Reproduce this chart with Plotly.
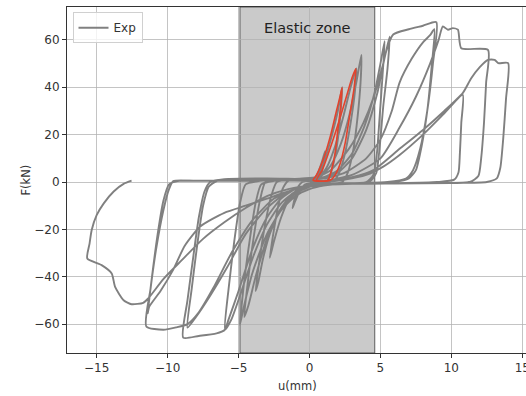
import plotly.graph_objects as go

# ---------------- data ----------------
cyc1_u = [0, 0.3, 0.6, 0.9, 1.1, 1.0, 0.8, 0.6, 0.2, -0.3, -0.7, -1.0, -1.2, -1.0, -0.8, -0.5, 0.0]
cyc1_f = [0, 1, 4, 9, 13, 8, 3, 0.5, -0.3, -1, -4, -8, -11, -6, -2, 0, 0.5]

cyc2_u = [0.2, 0.5, 1.0, 1.5, 2.0, 2.3, 2.2, 2.0, 1.7, 1.4, 1.2, 0.6, 0.0, -0.8, -1.5, -2.0, -2.5, -2.8,
          -2.5, -2.2, -1.9, -1.5, -0.5, 0.3]
cyc2_f = [0.3, 2, 8, 18, 30, 40, 30, 18, 8, 2, 0.3, -0.3, -1, -3, -8, -15, -25, -32,
          -20, -10, -3, 0.5, 1, 0.8]

cyc3_u = [0.6, 1.2, 1.8, 2.4, 2.9, 3.3, 3.2, 2.9, 2.5, 2.1, 1.7, 1.0, 0.0, -1.0, -2.0, -2.8, -3.3, -3.6, -3.8,
          -3.5, -3.1, -2.7, -2.3, -1.0, 0.0]
cyc3_f = [1.5, 6, 15, 28, 40, 48, 38, 25, 12, 4, 0.5, -0.5, -1.5, -4, -11, -22, -33, -42, -46,
          -32, -17, -6, 0, 1, 1.5]

cyc4_u = [0.8, 1.5, 2.2, 2.8, 3.3, 3.66, 3.6, 3.4, 3.1, 2.7, 2.3, 1.0, 0.0, -1.0, -2.0, -3.0, -3.8, -4.3, -4.6,
          -4.3, -3.9, -3.5, -3.1, -2.0, -0.5]
cyc4_f = [2.5, 7, 16, 28, 42, 53.7, 42, 28, 14, 4, 0, -1, -2, -5, -11, -24, -40, -52, -57,
          -40, -22, -8, 0, 1, 1.5]

cyc5_u = [0.5, 1.5, 2.8, 3.8, 4.5, 5.2, 5.65, 5.5, 5.2, 4.95, 4.7, 4.2, 2.5, 1.0, 0.0, -1.0, -2.0, -3.0, -4.0,
          -4.6, -4.9, -4.6, -4.2, -3.8, -3.4, -2.5, -1.0, 0.0]
cyc5_f = [2, 5, 14.2, 25, 35.4, 50, 61.4, 48, 32, 15, 3.7, 0, -0.5, -1.5, -3, -6, -12, -22, -38,
          -52, -60.3, -42, -24, -9, -1, 0.5, 1.2, 1.5]

cyc6_u = [1.0, 2.0, 3.0, 3.9, 4.6, 5.0, 5.3, 5.15, 4.95, 4.75, 4.5, 4.0, 2.0, 0.0, -1.0, -2.0, -3.0, -4.0,
          -4.9, -5.5, -5.96, -5.7, -5.3, -4.9, -4.5, -3.5, -1.5, 0.0]
cyc6_f = [2, 5, 12, 24, 38, 50, 59.5, 45, 28, 12, 3, 0, -0.5, -1.5, -4, -9, -18, -32,
          -48, -58, -62.4, -45, -25, -9, -1, 0.5, 1.2, 1.5]

cyc7_u = [1.0, 2.0, 3.0, 4.0, 4.8, 5.4, 5.9, 7.0, 8.0, 8.94, 8.7, 8.3, 7.8, 7.3, 6.8, 5.5, 3.0, 0.5,
          -1.0, -2.0, -3.0, -4.0, -5.0, -5.7, -6.0, -6.55, -7.8, -8.9,
          -8.6, -8.2, -7.8, -7.4, -7.0, -6.0, -3.0, 0.0]
cyc7_f = [2, 4, 10, 22, 38, 55, 62.3, 64.5, 66, 67.5, 50, 30, 14, 5, 1.5, 0, -0.5, -1.5,
          -3, -7, -15, -28, -46, -58, -62.6, -63.9, -65, -65.7,
          -50, -32, -15, -4, 0, 1.2, 1.5, 1.2]

cyc8_u = [1.0, 2.5, 4.0, 5.0, 5.8, 6.35, 7.2, 8.0, 8.5, 8.8, 8.6, 8.3, 7.9, 7.5, 7.0, 6.0, 3.0, 0.0,
          -1.5, -3.0, -4.5, -5.8, -7.0, -8.0, -8.6,
          -8.3, -7.9, -7.5, -7.1, -6.5, -4.0, -1.0]
cyc8_f = [1.5, 4, 10, 18, 30, 42, 52, 59, 62, 64.5, 48, 30, 15, 5, 1.5, 0, -0.6, -1.5,
          -4, -11, -22, -36, -48, -57, -61.5,
          -45, -26, -10, -2, 0.5, 1, 1]

cyc9_u = [1.0, 3.0, 5.0, 6.35, 7.5, 8.5, 9.1, 9.4, 9.76, 10.1, 10.46, 10.7, 12.58,
          12.45, 12.3, 12.1, 11.9, 11.3, 9.0, 6.0, 3.0, 0.5,
          -1.0, -2.5, -4.0, -5.5, -6.8, -7.8, -8.6, -9.4, -10.3, -11.5,
          -11.2, -10.8, -10.3, -9.9, -9.6, -8.0, -5.0, -2.0, 0.0]
cyc9_f = [0.5, 3, 10, 23, 36, 50, 60, 65.7, 64.3, 65, 64.3, 56.5, 55.8,
          42, 25, 10, 2.5, 0, -0.4, -0.6, -0.8, -1.5,
          -3, -7, -16, -30, -45, -55, -60, -61.4, -62.4, -61,
          -45, -28, -12, -3, 0.4, 0.5, 0.6, 0.8, 0.5]

cyc10_u = [1.0, 2.5, 4.0, 5.2, 6.35, 8.0, 9.5, 10.8, 10.7, 10.6, 10.5, 10.2, 9.0, 6.0, 2.0, 0.0,
           -1.5, -3.0, -4.5, -6.0, -7.7, -8.8, -9.6, -10.5, -11.3, -11.4,
           -11.1, -10.7, -10.3, -9.9, -9.3, -6.0, -2.0, 0.0]
cyc10_f = [0, 1, 3, 6.5, 11.4, 20, 29, 36.8, 25, 12, 4, 1, 0, -0.5, -0.8, -1.5,
           -4, -7, -10, -13, -18.8, -27, -37, -46, -52.7, -55.4,
           -40, -22, -8, -1, 0.4, 0.5, 0.7, 0.5]

cyc11_u = [1.5, 3.0, 4.5, 6.35, 8.0, 9.5, 10.8, 11.4, 12.0, 12.58, 13.05, 13.3, 14.0,
           13.85, 13.65, 13.45, 13.2, 12.5, 10.0, 6.0, 2.0, 0.0,
           -1.5, -3.0, -4.5, -6.0, -7.5, -9.0, -10.3, -11.37, -11.72, -12.54, -13.1, -13.7, -13.94,
           -14.65, -15.66, -15.5, -15.35, -15.0, -14.5, -13.8, -13.1, -12.54]
cyc11_f = [0.5, 2, 5, 14, 22, 30, 37.5, 43.8, 48.5, 51.6, 51.6, 50.2, 50.2,
           35, 18, 6, 1.5, 0, -0.4, -0.6, -0.8, -1.5,
           -3, -6, -11, -17, -24, -33, -41, -49.2, -51, -51.6, -49.9, -44.3, -38.6,
           -35.1, -32.3, -26, -20.3, -14, -9, -4, -0.8, 0.55]

red1_u = [0.25, 0.5, 1.0, 1.5, 1.9, 2.15, 2.3, 2.2, 2.0, 1.8, 1.55, 1.3, 0.8, 0.25]
red1_f = [0.8, 3, 10, 20, 30, 36, 39.9, 32, 22, 12, 5, 0.8, 0.3, 0.8]
red2_u = [0.5, 0.9, 1.5, 2.1, 2.6, 3.0, 3.26, 3.15, 2.84, 2.5, 2.13, 1.7, 1.43, 1.0, 0.5]
red2_f = [0.8, 5, 15, 26, 36, 44, 47.8, 40, 28.3, 16, 7.2, 2, 0.6, 0.3, 0.8]

elastic_zone = [-4.9, 4.6]
x_ticks = [-15, -10, -5, 0, 5, 10, 15]
y_ticks = [-60, -40, -20, 0, 20, 40, 60]

# ---------------- build ----------------
u_exp = cyc1_u + cyc2_u + cyc3_u + cyc4_u + cyc5_u + cyc6_u + cyc7_u + cyc8_u + cyc9_u + cyc10_u + cyc11_u
f_exp = cyc1_f + cyc2_f + cyc3_f + cyc4_f + cyc5_f + cyc6_f + cyc7_f + cyc8_f + cyc9_f + cyc10_f + cyc11_f

red_u = red1_u + [None] + red2_u
red_f = red1_f + [None] + red2_f

fig = go.Figure()
fig.add_trace(go.Scatter(x=u_exp, y=f_exp, mode="lines", name="Exp",
                         line=dict(color="rgb(128,128,128)", width=1.9, shape="spline", smoothing=0.6)))
fig.add_trace(go.Scatter(x=red_u, y=red_f, mode="lines", showlegend=False,
                         line=dict(color="#e2432d", width=1.6, shape="spline", smoothing=0.6)))

fig.add_shape(type="rect", xref="x", yref="paper", x0=elastic_zone[0], x1=elastic_zone[1],
              y0=0, y1=1, layer="below",
              fillcolor="rgba(128,128,128,0.42)", line=dict(color="rgba(60,60,60,0.8)", width=1))

fig.add_annotation(x=(elastic_zone[0] + elastic_zone[1]) / 2, y=65, xref="x", yref="y",
                   text="Elastic zone", showarrow=False,
                   font=dict(family="DejaVu Sans", size=14.5, color="#222"))

fig.add_annotation(x=-0.11, y=0.5, xref="paper", yref="paper", text="F(kN)", textangle=-90,
                   showarrow=False, font=dict(family="DejaVu Sans", size=11.5, color="#333"))
fig.add_annotation(x=0.503, y=-0.095, xref="paper", yref="paper", text="u(mm)",
                   showarrow=False, yanchor="middle",
                   font=dict(family="DejaVu Sans", size=11.5, color="#333"))

axis_common = dict(showgrid=True, gridcolor="rgba(176,176,176,0.75)", gridwidth=1,
                   showline=True, linecolor="#333", linewidth=1,
                   ticks="outside", ticklen=4, tickcolor="#333",
                   tickfont=dict(family="DejaVu Sans", size=12, color="#333"),
                   zeroline=False, ticklabeloverflow="allow", automargin=False)

fig.update_xaxes(range=[-17.09, 15.26], tickvals=x_ticks,
                 ticktext=[str(v).replace("-", "\u2212") for v in x_ticks],
                 mirror=True, **axis_common)
fig.update_yaxes(range=[-72.2, 73.9], tickvals=y_ticks,
                 ticktext=[str(v).replace("-", "\u2212") for v in y_ticks],
                 mirror=False, **axis_common)

fig.update_layout(width=526, height=396, margin=dict(l=67, r=0, t=7, b=43, autoexpand=False),
                  plot_bgcolor="white", paper_bgcolor="white",
                  showlegend=True,
                  legend=dict(x=0.012, y=0.985, xanchor="left", yanchor="top",
                              bgcolor="rgba(255,255,255,0.8)", bordercolor="#d0d0d0", borderwidth=1,
                              font=dict(family="DejaVu Sans", size=12, color="#333"),
                              itemwidth=30, tracegroupgap=0))

fig.write_html("out.html")
